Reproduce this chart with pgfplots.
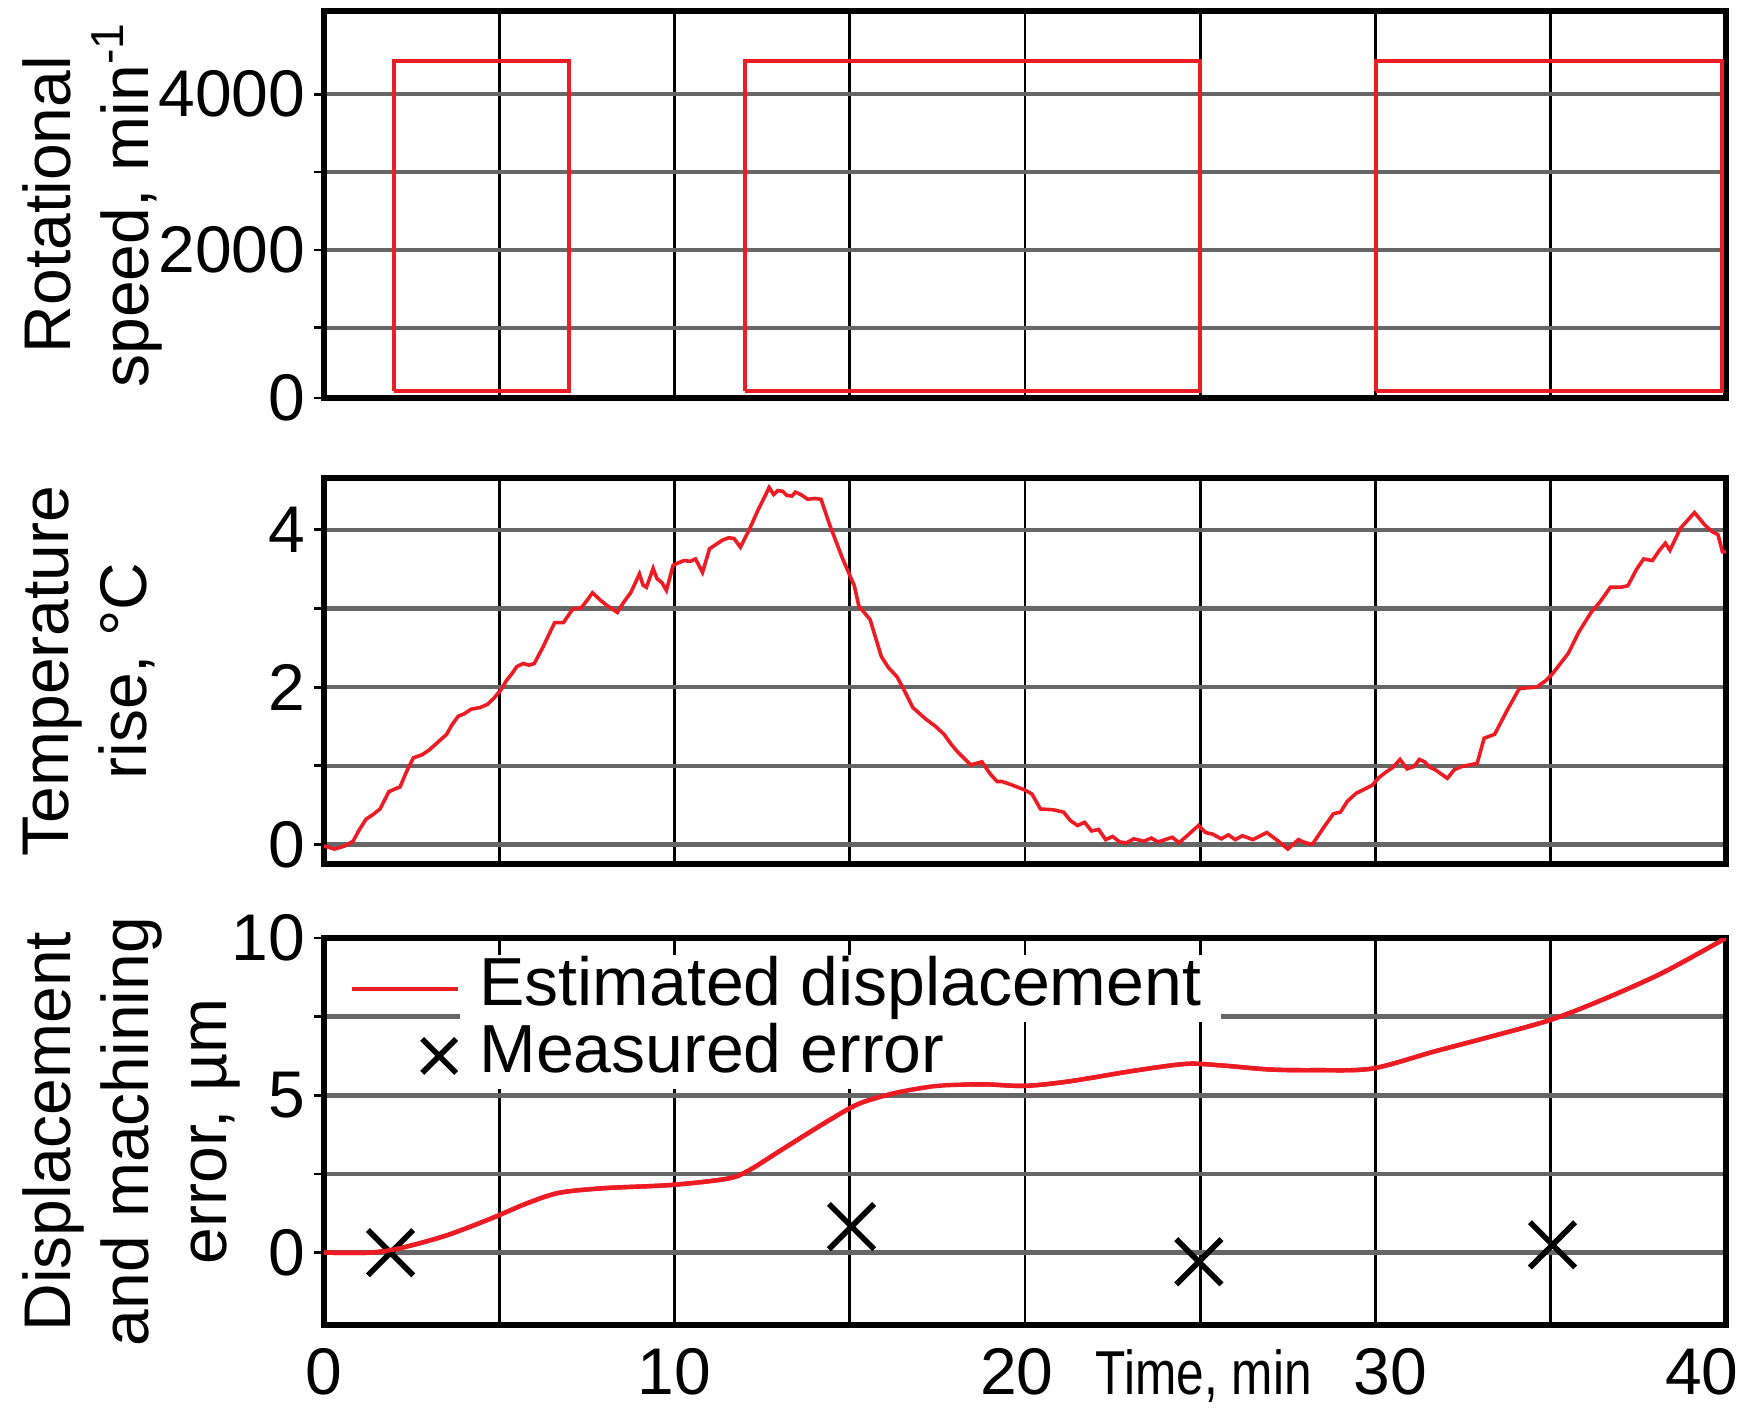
\documentclass[border=0pt]{standalone}
\usepackage{fontspec}
\setmainfont{Liberation Sans}
\usepackage{graphicx}
\usepackage{pgfplots}
\usepackage{pgfplotstable}
\pgfplotsset{compat=1.18}
\definecolor{myred}{RGB}{237,28,36}
\newcommand{\bigfont}{\fontsize{16.5}{19.5}\selectfont}

\pgfplotstableread{
t d
0 0
1.3 0
2.2 0.15
3.5 0.55
4.8 1.1
5.75 1.55
6.7 1.9
8.0 2.05
9.9 2.15
11.5 2.35
12.1 2.6
13.1 3.3
14.4 4.2
15.3 4.75
16.4 5.1
17.5 5.3
18.8 5.35
20 5.3
21.3 5.45
23.1 5.78
24.6 6.0
25.6 5.95
27 5.82
28.3 5.8
29.9 5.85
31.7 6.4
33.4 6.9
35 7.4
36.5 8.05
38.2 8.9
40 10.0
}\dispdata

\pgfplotstableread{
t e
1.9 0
15.05 0.83
24.96 -0.29
35.05 0.25
}\errdata

\pgfplotsset{
  panel/.style={
    scale only axis, width=350.5pt,
    xmin=0, xmax=40,
    xtick={0,10,20,30,40}, minor xtick={5,15,25,35},
    grid=both,
    major x grid style={black, line width=0.7pt},
    minor x grid style={black, line width=0.7pt},
    major y grid style={black!60, line width=1.1pt},
    minor y grid style={black!60, line width=1.1pt},
    axis line style={line width=1.5pt},
    tick align=outside, ytick pos=left, xtick pos=bottom,
    major tick length=2.5pt, minor tick length=2.5pt,
    xtick style={draw=none},
    ytick style={black, line width=0.7pt},
    tick label style={font=\bigfont},
    yticklabel style={inner xsep=2pt},
    every axis y label/.style={at={(axis description cs:-0.2155,0.5)}, rotate=90, anchor=north, inner sep=0pt, align=center, font=\bigfont},
  },
  redline/.style={myred, line width=1pt},
  displine/.style={myred, line width=1.1pt, smooth},
  linelegend/.style={legend image code/.code={\draw[##1] (0pt,0pt) -- (26.5pt,0pt);}},
  xlegend/.style={legend image code/.code={\draw[##1, mark size=6pt] plot coordinates {(21.8pt,0pt)};}},
}

\begin{document}
\begin{tikzpicture}
\path[use as bounding box] (-81pt,2.75pt) rectangle (357pt,-350pt);

% ---------- Rotational speed ----------
\begin{axis}[panel, at={(0pt,0pt)}, anchor=north west, height=96.75pt,
  ymin=100, ymax=5068,
  ytick={100,2000,4000}, yticklabels={0,2000,4000}, minor ytick={1000,3000},
  xticklabels={},
  ylabel={Rotational\\speed, min\textsuperscript{-1}}]
\addplot[redline] coordinates {(2,185) (2,4430) (7,4430) (7,185) (2,185)};
\addplot[redline] coordinates {(12,185) (12,4430) (25,4430) (25,185) (12,185)};
\addplot[redline] coordinates {(30,185) (30,4430) (39.9,4430) (39.9,185) (30,185)};
\end{axis}

% ---------- Temperature rise ----------
\begin{axis}[panel, at={(0pt,-116.75pt)}, anchor=north west, height=96.5pt,
  ymin=-0.25, ymax=4.66,
  ytick={0,2,4}, yticklabels={0,2,4}, minor ytick={1,3},
  xticklabels={},
  ylabel={Temperature\\rise, °C}]
\addplot[redline, line width=0.9pt] coordinates {
(0,-0.02) (0.3,-0.06) (0.6,-0.02) (0.83,0.04) (1.0,0.18) (1.2,0.32) (1.4,0.38) (1.6,0.45)
(1.85,0.67) (2.0,0.70) (2.17,0.73) (2.35,0.92) (2.55,1.10) (2.8,1.14) (3.0,1.20) (3.25,1.30)
(3.5,1.40) (3.65,1.52) (3.83,1.63) (4.0,1.66) (4.2,1.72) (4.45,1.74) (4.66,1.78) (4.85,1.86)
(5.04,1.96) (5.2,2.08) (5.36,2.17) (5.5,2.26) (5.68,2.30) (5.85,2.28) (6.0,2.30) (6.26,2.52)
(6.45,2.70) (6.58,2.82) (6.83,2.82) (7.09,2.99) (7.34,3.01) (7.5,3.10) (7.66,3.20) (7.9,3.10)
(8.1,3.03) (8.37,2.95) (8.55,3.08) (8.75,3.20) (9.0,3.44) (9.1,3.30) (9.2,3.27) (9.39,3.51)
(9.5,3.38) (9.64,3.33) (9.77,3.23) (9.96,3.55) (10.1,3.58) (10.28,3.61) (10.45,3.60) (10.6,3.63)
(10.8,3.46) (11.0,3.76) (11.2,3.82) (11.37,3.87) (11.55,3.90) (11.7,3.89) (11.88,3.78) (12.13,4.0)
(12.39,4.26) (12.55,4.40) (12.7,4.54) (12.83,4.45) (12.95,4.50) (13.09,4.49) (13.2,4.44) (13.35,4.43)
(13.45,4.48) (13.6,4.45) (13.8,4.39) (14.0,4.40) (14.18,4.39) (14.43,4.06) (14.8,3.63) (15.13,3.29)
(15.26,3.03) (15.58,2.86) (15.9,2.39) (16.1,2.25) (16.35,2.13) (16.6,1.92) (16.8,1.74) (17.0,1.66)
(17.18,1.59) (17.45,1.50) (17.69,1.40) (17.9,1.27) (18.07,1.18) (18.25,1.10) (18.45,1.01) (18.77,1.05)
(19.0,0.90) (19.2,0.80) (19.34,0.80) (19.6,0.76) (20.0,0.69) (20.2,0.64) (20.44,0.45) (20.8,0.44)
(21.1,0.41) (21.3,0.30) (21.5,0.24) (21.7,0.28) (21.9,0.17) (22.1,0.19) (22.3,0.06) (22.5,0.10)
(22.7,0.03) (22.9,0.02) (23.1,0.07) (23.4,0.04) (23.6,0.08) (23.8,0.03) (24.0,0.06) (24.2,0.09)
(24.4,0.02) (24.95,0.24) (25.15,0.15) (25.35,0.13) (25.6,0.07) (25.8,0.12) (26.0,0.06) (26.2,0.11)
(26.5,0.06) (26.9,0.15) (27.2,0.05) (27.5,-0.06) (27.8,0.06) (28.0,0.02) (28.2,0.0) (28.5,0.20)
(28.8,0.39) (29.0,0.41) (29.2,0.55) (29.45,0.65) (29.9,0.75) (30.1,0.85) (30.3,0.92) (30.5,0.98)
(30.7,1.08) (30.9,0.96) (31.1,0.99) (31.25,1.08) (31.4,1.05) (31.55,0.98) (31.7,0.95) (32.05,0.84)
(32.25,0.95) (32.46,0.99) (32.9,1.03) (33.1,1.35) (33.4,1.40) (33.75,1.70) (34.1,1.98) (34.3,1.99)
(34.6,2.0) (34.85,2.08) (35.05,2.17) (35.5,2.43) (35.8,2.70) (36.15,2.95) (36.4,3.08) (36.7,3.27)
(37.0,3.27) (37.2,3.29) (37.45,3.50) (37.65,3.63) (37.9,3.61) (38.1,3.74) (38.27,3.83) (38.4,3.74)
(38.7,4.02) (39.1,4.22) (39.4,4.06) (39.6,3.98) (39.77,3.94) (39.9,3.72) (40,3.72)
};
\end{axis}

% ---------- Displacement ----------
\begin{axis}[panel, at={(0pt,-231.75pt)}, anchor=north west, height=96.75pt,
  ymin=-2.3, ymax=10,
  ytick={0,5,10}, yticklabels={0,5,10}, minor ytick={2.5,7.5},
  xticklabels={0,10,\hspace*{-4pt}20,30\hspace*{-7.5pt},\hspace*{-12pt}40},
  xticklabel style={anchor=base, yshift=-14.75pt},
  xlabel={\scalebox{0.8}[1]{Time, min}},
  xlabel style={at={(axis cs:25.1,-2.3)}, anchor=base, yshift=-17.25pt, font=\fontsize{15.5}{15.5}\selectfont},
  ylabel={Displacement\\and machining\\error, µm},
  legend style={at={(rel axis cs:0,1)}, anchor=north west, xshift=6.25pt, yshift=-4.15pt,
    draw=none, fill=none, inner sep=0pt, row sep=0pt,
    nodes={fill=white, inner ysep=0.25pt, inner xsep=4.8pt, text height=12.35pt, text depth=3.9pt},
    font=\fontsize{17}{19.5}\selectfont},
  legend cell align=left]
\addplot[displine, linelegend] table[x=t, y=d] {\dispdata};
\addlegendentry{Estimated displacement}
\addplot[only marks, mark=x, mark size=8pt, black, line width=1.4pt, xlegend] table[x=t, y=e] {\errdata};
\addlegendentry{Measured error}
\end{axis}

% overlay: curve drawn above the legend box
\begin{axis}[at={(0pt,-231.75pt)}, anchor=north west, scale only axis,
  width=350.5pt, height=96.75pt, xmin=0, xmax=40, ymin=-2.3, ymax=10, hide axis]
\addplot[displine] table[x=t, y=d] {\dispdata};
\end{axis}
\end{tikzpicture}
\end{document}
